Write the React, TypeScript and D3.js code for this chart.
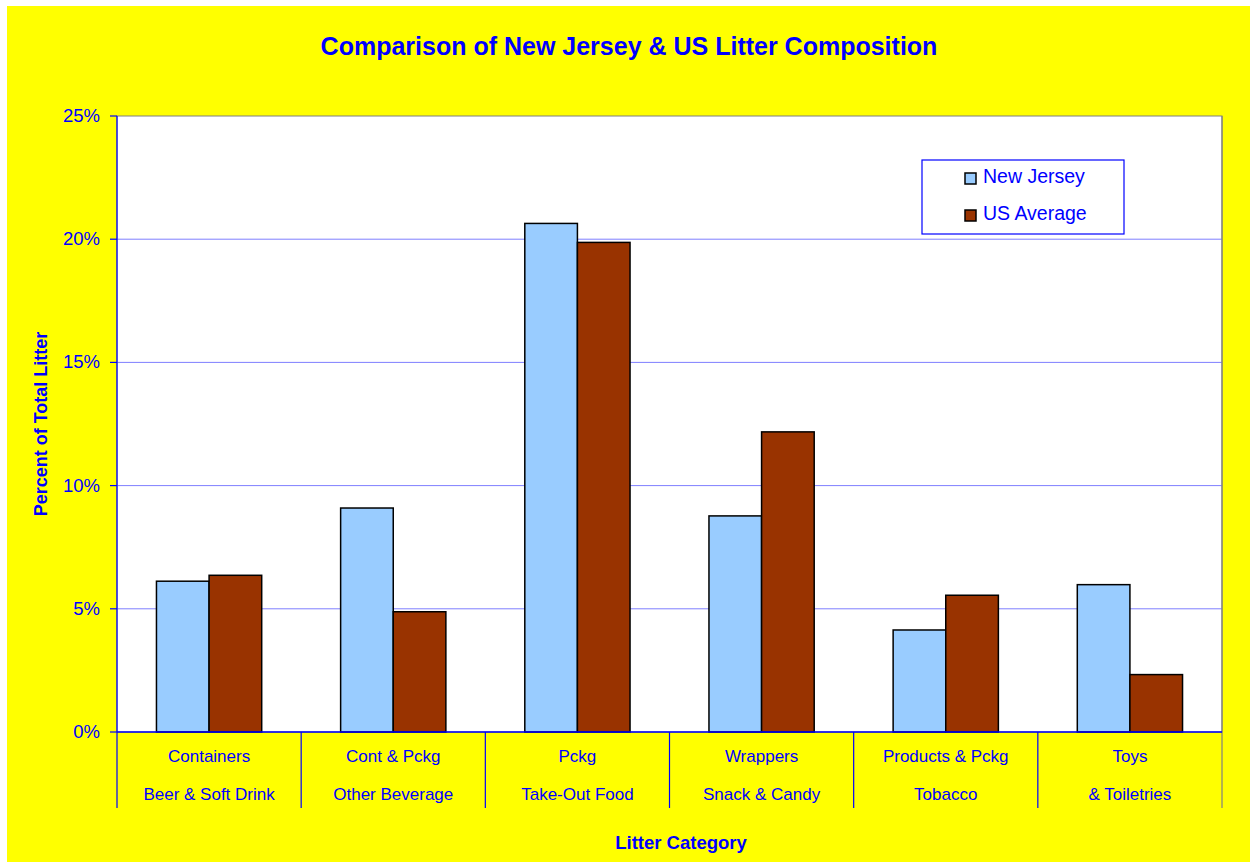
import React from "react";
import * as d3 from "d3";

const categoriesTop = ["Containers", "Cont & Pckg", "Pckg", "Wrappers", "Products & Pckg", "Toys"];
const categoriesBottom = ["Beer & Soft Drink", "Other Beverage", "Take-Out Food", "Snack & Candy", "Tobacco", "& Toiletries"];
const seriesNames = ["New Jersey", "US Average"];
const newJersey = [6.12, 9.09, 20.64, 8.77, 4.14, 5.98];
const usAverage = [6.36, 4.88, 19.87, 12.18, 5.55, 2.33];
const yTicks = [0, 5, 10, 15, 20, 25];
const colors = ["#99CCFF", "#993300"];

const W = 1250;
const H = 862;
const plot = { left: 117, right: 1222, top: 116, bottom: 732 };
const FONT = "'Liberation Sans', Arial, sans-serif";
const BLUE = "#0000FF";

export default function App() {
  const x0 = d3
    .scaleBand<number>()
    .domain(d3.range(categoriesTop.length))
    .range([plot.left, plot.right])
    .padding(0);
  const x1 = d3
    .scaleBand<number>()
    .domain([0, 1])
    .range([0, x0.bandwidth()])
    .paddingInner(0)
    .paddingOuter(0.75);
  const y = d3.scaleLinear().domain([0, 25]).range([plot.bottom, plot.top]);
  const values = [newJersey, usAverage];

  const boundaries = d3.range(categoriesTop.length + 1).map((i) =>
    i < categoriesTop.length ? (x0(i) as number) : plot.right
  );

  return (
    <div style={{ position: "fixed", left: 0, top: 0, width: W, height: H, overflow: "hidden" }}>
      <svg width={W} height={H} style={{ display: "block" }}>
        <rect x={0} y={0} width={W} height={H} fill="#ffffff" />
        <rect x={7} y={6} width={W} height={H} fill="#FFFF00" />
        {/* plot area */}
        <rect
          x={plot.left}
          y={plot.top}
          width={plot.right - plot.left}
          height={plot.bottom - plot.top}
          fill="#ffffff"
          stroke="#808080"
          strokeWidth={1}
        />
        {/* gridlines */}
        {yTicks
          .filter((t) => t > 0 && t < 25)
          .map((t) => (
            <line
              key={"g" + t}
              x1={plot.left}
              x2={plot.right}
              y1={y(t)}
              y2={y(t)}
              stroke="#7F7FFF"
              strokeWidth={1}
            />
          ))}
        {/* bars */}
        {values.map((vals, s) =>
          vals.map((v, i) => (
            <rect
              key={`b${s}-${i}`}
              x={(x0(i) as number) + (x1(s) as number)}
              y={y(v)}
              width={x1.bandwidth()}
              height={y(0) - y(v)}
              fill={colors[s]}
              stroke="#000000"
              strokeWidth={1.5}
            />
          ))
        )}
        {/* right border extension */}
        <line x1={plot.right} x2={plot.right} y1={plot.top} y2={808} stroke="#808080" strokeWidth={1.2} />
        {/* y axis */}
        <line x1={plot.left} x2={plot.left} y1={plot.top} y2={plot.bottom} stroke={BLUE} strokeWidth={1.2} />
        {yTicks.map((t) => (
          <g key={"t" + t}>
            <line x1={plot.left - 7} x2={plot.left} y1={y(t)} y2={y(t)} stroke={BLUE} strokeWidth={1.2} />
            <text
              x={100}
              y={y(t) + 6}
              textAnchor="end"
              fontFamily={FONT}
              fontSize={18.5}
              fill={BLUE}
            >
              {t + "%"}
            </text>
          </g>
        ))}
        {/* x axis */}
        <line x1={plot.left} x2={plot.right} y1={plot.bottom} y2={plot.bottom} stroke={BLUE} strokeWidth={1.5} />
        {boundaries.slice(0, -1).map((bx, i) => (
          <line key={"s" + i} x1={bx} x2={bx} y1={plot.bottom} y2={808} stroke={BLUE} strokeWidth={1.2} />
        ))}
        {categoriesTop.map((c, i) => {
          const cx = (x0(i) as number) + x0.bandwidth() / 2;
          return (
            <g key={"c" + i}>
              <text x={cx} y={762} textAnchor="middle" fontFamily={FONT} fontSize={17} fill={BLUE}>
                {c}
              </text>
              <text x={cx} y={800} textAnchor="middle" fontFamily={FONT} fontSize={17} fill={BLUE}>
                {categoriesBottom[i]}
              </text>
            </g>
          );
        })}
        {/* titles */}
        <text
          x={629}
          y={55}
          textAnchor="middle"
          fontFamily={FONT}
          fontSize={25}
          fontWeight="bold"
          fill={BLUE}
        >
          Comparison of New Jersey &amp; US Litter Composition
        </text>
        <text
          x={681}
          y={849}
          textAnchor="middle"
          fontFamily={FONT}
          fontSize={18.5}
          fontWeight="bold"
          fill={BLUE}
        >
          Litter Category
        </text>
        <text
          transform={`translate(47, ${(plot.top + plot.bottom) / 2}) rotate(-90)`}
          textAnchor="middle"
          fontFamily={FONT}
          fontSize={18}
          fontWeight="bold"
          fill={BLUE}
        >
          Percent of Total Litter
        </text>
        {/* legend */}
        <rect x={922} y={160} width={202} height={74} fill="#ffffff" stroke={BLUE} strokeWidth={1.2} />
        {seriesNames.map((n, i) => (
          <g key={"l" + i}>
            <rect
              x={965}
              y={173 + i * 37}
              width={11}
              height={11}
              fill={colors[i]}
              stroke="#000000"
              strokeWidth={1.5}
            />
            <text x={983} y={183 + i * 37} fontFamily={FONT} fontSize={19.5} fill={BLUE}>
              {n}
            </text>
          </g>
        ))}
      </svg>
    </div>
  );
}
